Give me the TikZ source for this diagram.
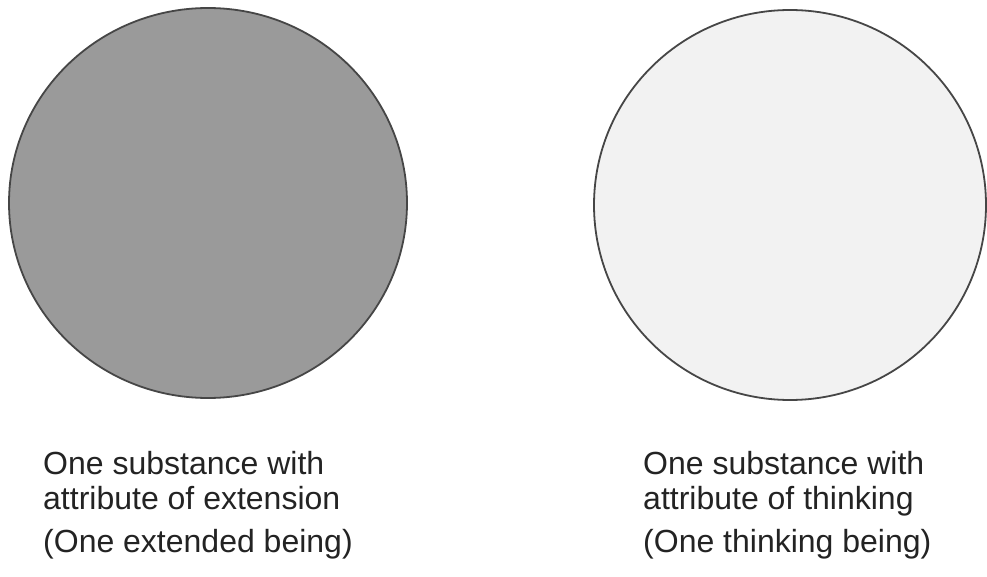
\documentclass[tikz,border=0pt]{standalone}
\usepackage{fontspec}
\setmainfont{Liberation Sans}
\definecolor{darkfill}{RGB}{154,154,154}
\definecolor{lightfill}{RGB}{242,242,242}
\definecolor{edge}{RGB}{70,70,70}
\definecolor{txt}{RGB}{35,35,35}
\begin{document}
\begin{tikzpicture}[x=1pt,y=-1pt,
  disc/.style={draw=edge,line width=1.8pt},
  lbl/.style={inner sep=0pt,anchor=base west,text=txt,font=\fontsize{32}{38}\selectfont}]
\useasboundingbox (0,0) rectangle (987,577);
\fill[white] (0,0) rectangle (987,577);
\draw[disc,fill=darkfill] (208,203) ellipse [x radius=199,y radius=195];
\draw[disc,fill=lightfill] (790,205) ellipse [x radius=196,y radius=195];
\node[lbl] (l1) at (43,474) {One substance with};
\node[lbl] (l2) at (43,509) {attribute of extension};
\node[lbl] (l3) at (43,552) {(One extended being)};
\node[lbl] (r1) at (643,474) {One substance with};
\node[lbl] (r2) at (643,509) {attribute of thinking};
\node[lbl] (r3) at (643,552) {(One thinking being)};
\end{tikzpicture}
\end{document}
